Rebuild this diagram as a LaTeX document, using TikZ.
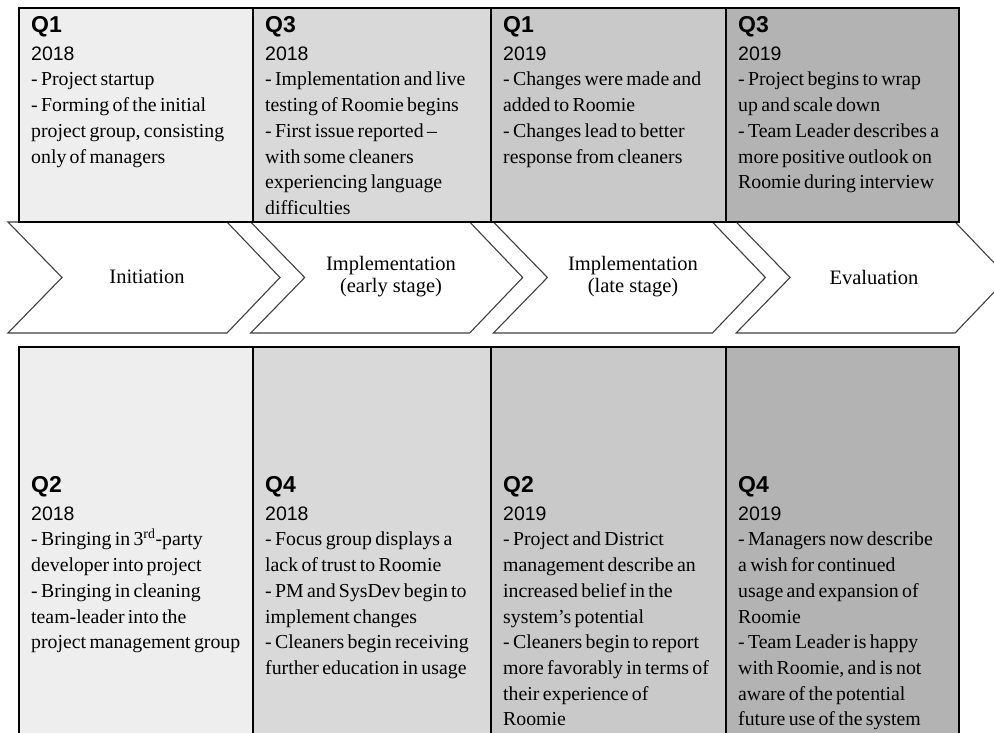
\documentclass[tikz,border=0pt]{standalone}
\usepackage{fontspec}
\setmainfont{Liberation Serif}
\setsansfont{Liberation Sans}
\newcommand{\qfont}{\fontsize{23}{28}\selectfont\sffamily\bfseries}
\newcommand{\yearfont}{\fontsize{19.5}{28}\selectfont\sffamily}
\newcommand{\bodyfont}{\fontsize{19.8}{25.7}\selectfont\rmfamily}
\definecolor{shadeA}{HTML}{EEEEEE}
\definecolor{shadeB}{HTML}{D9D9D9}
\definecolor{shadeC}{HTML}{C9C9C9}
\definecolor{shadeD}{HTML}{B3B3B3}
\tikzset{
    celltext/.style={anchor=north west, inner sep=0pt, text width=222pt, align=left},
    phase/.style={draw=black!75, line width=1.1pt, fill=white},
    phaselabel/.style={align=center, font=\fontsize{20.5}{22}\selectfont\rmfamily},
    rule/.style={line width=2.2pt},
}
\begin{document}
\begin{tikzpicture}[x=1pt,y=-1pt]
    \useasboundingbox (0,0) rectangle (994,733);
    \clip (0,0) rectangle (994,733);
    % column shading
    \fill[shadeA] (19,8) rectangle (253,222);
    \fill[shadeB] (253,8) rectangle (491,222);
    \fill[shadeC] (491,8) rectangle (726,222);
    \fill[shadeD] (726,8) rectangle (959,222);
    \fill[shadeA] (19,347) rectangle (253,745);
    \fill[shadeB] (253,347) rectangle (491,745);
    \fill[shadeC] (491,347) rectangle (726,745);
    \fill[shadeD] (726,347) rectangle (959,745);
    % phase chevrons
    \foreach \L in {8,250.7,493.4,736.1}
        \draw[phase] (\L,222) -- (\L+219,222) -- (\L+272,277.5) -- (\L+219,333) -- (\L,333) -- (\L+54,277.5) -- cycle;
    \node[phaselabel] (initiation) at (147,277) {Initiation};
    \node[phaselabel] (early) at (391,277) {Implementation\\(early stage)};
    \node[phaselabel] (late) at (633,277) {Implementation\\(late stage)};
    \node[phaselabel] (evaluation) at (874,277) {Evaluation};
    % table rules
    \draw[rule] (19,8) rectangle (959,222);
    \draw[rule] (253,8) -- (253,222);
    \draw[rule] (491,8) -- (491,222);
    \draw[rule] (726,8) -- (726,222);
    \draw[rule] (19,745) -- (19,347) -- (959,347) -- (959,745);
    \draw[rule] (253,347) -- (253,745);
    \draw[rule] (491,347) -- (491,745);
    \draw[rule] (726,347) -- (726,745);
    % top row
    \node[celltext] (qone) at (31,16) {{\qfont Q1\par}{\yearfont 2018\par}{\bodyfont - Project startup\\- Forming of the initial\\project group, consisting\\only of managers\par}};
    \node[celltext] (qthree) at (265,16) {{\qfont Q3\par}{\yearfont 2018\par}{\bodyfont - Implementation and live\\testing of Roomie begins\\- First issue reported --\\with some cleaners\\experiencing language\\difficulties\par}};
    \node[celltext] (qfive) at (503,16) {{\qfont Q1\par}{\yearfont 2019\par}{\bodyfont - Changes were made and\\added to Roomie\\- Changes lead to better\\response from cleaners\par}};
    \node[celltext] (qseven) at (738,16) {{\qfont Q3\par}{\yearfont 2019\par}{\bodyfont - Project begins to wrap\\up and scale down\\- Team Leader describes a\\more positive outlook on\\Roomie during interview\par}};
    % bottom row
    \node[celltext] (qtwo) at (31,476) {{\qfont Q2\par}{\yearfont 2018\par}{\bodyfont - Bringing in 3\textsuperscript{rd}-party\\developer into project\\- Bringing in cleaning\\team-leader into the\\project management group\par}};
    \node[celltext] (qfour) at (265,476) {{\qfont Q4\par}{\yearfont 2018\par}{\bodyfont - Focus group displays a\\lack of trust to Roomie\\- PM and SysDev begin to\\implement changes\\- Cleaners begin receiving\\further education in usage\par}};
    \node[celltext] (qsix) at (503,476) {{\qfont Q2\par}{\yearfont 2019\par}{\bodyfont - Project and District\\management describe an\\increased belief in the\\system’s potential\\- Cleaners begin to report\\more favorably in terms of\\their experience of\\Roomie\par}};
    \node[celltext] (qeight) at (738,476) {{\qfont Q4\par}{\yearfont 2019\par}{\bodyfont - Managers now describe\\a wish for continued\\usage and expansion of\\Roomie\\- Team Leader is happy\\with Roomie, and is not\\aware of the potential\\future use of the system\par}};
\end{tikzpicture}
\end{document}
